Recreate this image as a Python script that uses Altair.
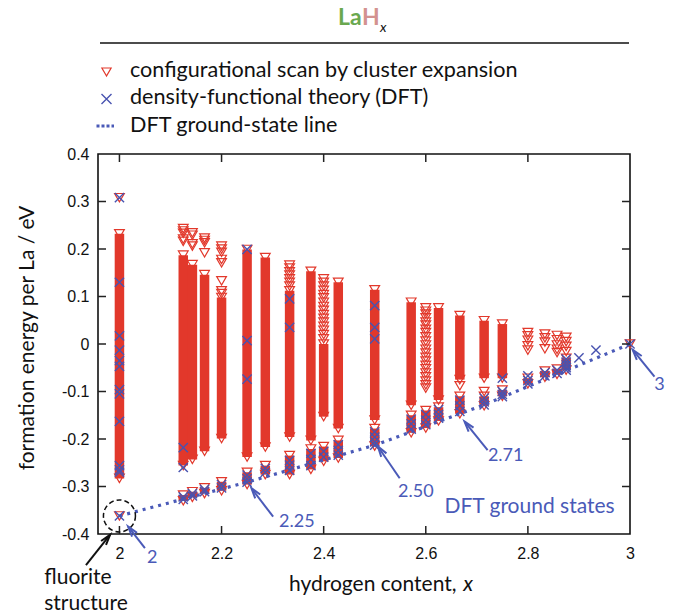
import math
import altair as alt
import pandas as pd

# ---------------- data ----------------
x_ticks = [2.0, 2.2, 2.4, 2.6, 2.8, 3.0]
y_ticks = [0.4, 0.3, 0.2, 0.1, 0.0, -0.1, -0.2, -0.3, -0.4]

# dense columns of cluster-expansion structures (solid stacks of triangles)
main_x   = [2.0, 2.125, 2.1429, 2.1667, 2.2, 2.25, 2.2857, 2.3333, 2.375, 2.4, 2.4286, 2.5, 2.5714, 2.625, 2.6667, 2.7143, 2.75]
main_top = [0.232, 0.187, 0.167, 0.146, 0.098, 0.199, 0.182, 0.112, 0.153, 0.0, 0.13, 0.114, 0.088, 0.076, 0.06, 0.049, 0.042]
main_bot = [-0.283, -0.256, -0.243, -0.226, -0.199, -0.238, -0.217, -0.196, -0.203, -0.153, -0.178, -0.16, -0.129, -0.118, -0.075, -0.072, -0.072]

# low-energy clusters near the ground-state line
grd_x   = [2.125, 2.1429, 2.1667, 2.2, 2.25, 2.2857, 2.3333, 2.375, 2.4, 2.4286, 2.5, 2.5714, 2.6, 2.625, 2.6667, 2.7143, 2.75, 2.8, 2.8333, 2.8571, 2.875]
grd_top = [-0.318, -0.311, -0.303, -0.29, -0.27, -0.256, -0.235, -0.221, -0.216, -0.203, -0.178, -0.15, -0.14, -0.133, -0.11, -0.11, -0.097, -0.072, -0.057, -0.053, -0.03]
grd_bot = [-0.33, -0.323, -0.315, -0.309, -0.296, -0.275, -0.275, -0.264, -0.247, -0.24, -0.215, -0.187, -0.177, -0.162, -0.147, -0.13, -0.11, -0.084, -0.07, -0.064, -0.055]

# isolated cluster-expansion structures
tri_extra = {
    2.0:    [0.308, -0.362],
    2.125:  [0.243, 0.238, 0.233, 0.221, 0.216],
    2.1429: [0.234, 0.229, 0.211, 0.206],
    2.1667: [0.223, 0.218, 0.213, 0.192],
    2.2:    [0.206, 0.2, 0.193, 0.178, 0.171, 0.133, 0.112, 0.106],
    2.3333: [0.166, 0.16, 0.152, 0.145, 0.137, 0.13, 0.122],
    2.4:    [0.137, 0.13, 0.122, 0.113, 0.104, 0.097, 0.088, 0.079, 0.071, 0.062, 0.054, 0.046, 0.037, 0.029, 0.02, 0.011],
    2.6:    [0.076, 0.069, 0.063, 0.055, 0.046, 0.04, 0.031, 0.024, 0.015, 0.006, -0.002, -0.011, -0.019,
             -0.028, -0.036, -0.045, -0.052, -0.061, -0.069, -0.078, -0.086, -0.093],
    2.6667: [-0.088],
    2.7143: [-0.1],
    2.8:    [0.024, 0.017, 0.008, -0.004, -0.013],
    2.8333: [0.021, 0.013, 0.004, -0.01],
    2.8571: [0.018, 0.009, -0.002, -0.011, -0.018],
    2.875:  [0.014, 0.005, -0.005, -0.016],
    3.0:    [0.0],
}

# DFT calculations
dft = {
    2.0:    [0.308, 0.13, 0.017, -0.013, -0.035, -0.047, -0.096, -0.105, -0.163, -0.256, -0.265, -0.27, -0.362],
    2.125:  [-0.218, -0.26, -0.322, -0.327],
    2.1429: [-0.315, -0.32],
    2.1667: [-0.306, -0.311],
    2.2:    [-0.296, -0.303],
    2.25:   [0.199, 0.007, -0.074, -0.276, -0.284, -0.291],
    2.2857: [-0.262, -0.27],
    2.3333: [0.095, 0.035, -0.245, -0.255, -0.266],
    2.375:  [-0.23, -0.243, -0.256],
    2.4:    [-0.226, -0.238],
    2.4286: [-0.212, -0.224, -0.234],
    2.5:    [0.081, 0.035, 0.011, -0.185, -0.196, -0.206, -0.213],
    2.5714: [-0.158, -0.168, -0.179],
    2.6:    [-0.148, -0.16, -0.17],
    2.625:  [-0.138, -0.148, -0.156],
    2.6667: [-0.118, -0.13, -0.142],
    2.7143: [-0.114, -0.122, -0.128],
    2.75:   [-0.072, -0.1, -0.106, -0.111],
    2.8:    [-0.067, -0.077, -0.084],
    2.8333: [-0.06, -0.067],
    2.8571: [-0.055, -0.062],
    2.875:  [-0.032, -0.038, -0.044, -0.05, -0.055],
    2.9:    [-0.029],
    2.9333: [-0.013],
    3.0:    [0.0],
}

# DFT ground-state line
gs_x = [2.0, 2.25, 2.5, 2.7143, 3.0]
gs_y = [-0.362, -0.291, -0.213, -0.128, 0.0]

# annotation arrows (tail -> tip) and labels, in data units
arrows = [
    ("2",    2.0499, -0.4295, 2.0172, -0.3846, "blue"),
    ("fl",   1.9344, -0.4653, 1.9814, -0.4021, "black"),
    ("2.25", 2.3010, -0.3636, 2.2587, -0.3038, "blue"),
    ("2.50", 2.5489, -0.2827, 2.5065, -0.2162, "blue"),
    ("2.71", 2.7211, -0.2232, 2.6761, -0.1636, "blue"),
    ("3",    3.0479, -0.0688, 3.0055, -0.0126, "blue"),
]
labels_txt = ["2", "2.25", "2.50", "2.71", "3"]
labels_x   = [2.0538, 2.3127, 2.5456, 2.7217, 3.0577]
labels_y   = [-0.4505, -0.3741, -0.311, -0.2358, -0.0863]
labels_al  = ["left", "left", "left", "left", "center"]

# ---------------- style ----------------
RED = "#e2382b"
BLUE = "#4853b0"
LBLUE = "#4a5ab8"
W, H = 532, 380
XD = [1.958, 3.0]
YD = [-0.4, 0.4]
PXX = W / (XD[1] - XD[0])
PXY = H / (YD[1] - YD[0])
SANS = "Liberation Sans"
HUM = "Lato"
FS = 21
CROSS = "M-1,-1L1,1M-1,1L1,-1"
VHEAD = "M-0.6,1L0,-1L0.6,1"

xs = alt.Scale(domain=XD, nice=False, zero=False)
ys = alt.Scale(domain=YD, nice=False, zero=False)

xaxis = alt.Axis(values=x_ticks, labelExpr="'' + datum.value", ticks=False, tickSize=0,
                 domain=False, grid=False, labelFont=SANS, labelFontSize=16, labelColor="#111",
                 labelPadding=11, labelFlush=False, labelOverlap=False, title=None)
yaxis = alt.Axis(values=y_ticks, labelExpr="'' + datum.value", ticks=False, tickSize=0,
                 domain=False, grid=False, labelFont=SANS, labelFontSize=16, labelColor="#111",
                 labelPadding=9, labelFlush=False, labelOverlap=False, title=None)


def X(f):
    return alt.X(f, type="quantitative", scale=xs, axis=xaxis)


def Y(f):
    return alt.Y(f, type="quantitative", scale=ys, axis=yaxis)


# ---------------- frames ----------------
df_main = pd.DataFrame({"x": main_x, "top": main_top, "bot": main_bot})
df_grd = pd.DataFrame({"x": grd_x, "top": grd_top, "bot": grd_bot})

tri_rows = []
for xv, t, b in zip(main_x, main_top, main_bot):
    tri_rows += [(xv, t), (xv, b)]
for xv, t, b in zip(grd_x, grd_top, grd_bot):
    tri_rows += [(xv, t), (xv, b)]
for xv, vals in tri_extra.items():
    tri_rows += [(xv, v) for v in vals]
df_tri = pd.DataFrame(tri_rows, columns=["x", "y"])

df_dft = pd.DataFrame([(xv, v) for xv, vals in dft.items() for v in vals], columns=["x", "y"])
df_gs = pd.DataFrame({"x": gs_x, "y": gs_y})

arow = []
for lab, tx, ty, px, py, col in arrows:
    dxp = (px - tx) * PXX
    dyp = -(py - ty) * PXY
    L = math.hypot(dxp, dyp)
    ux, uy = dxp / L, dyp / L
    ang = math.degrees(math.atan2(ux, -uy)) % 360
    hx = px - ux * 5 / PXX
    hy = py + uy * 5 / PXY
    arow.append({"tx": tx, "ty": ty, "px": px, "py": py, "hx": hx, "hy": hy,
                 "ang": ang, "col": LBLUE if col == "blue" else "#111"})
df_arr = pd.DataFrame(arow)
df_lab = pd.DataFrame({"t": labels_txt, "x": labels_x, "y": labels_y, "al": labels_al})

bars = alt.Chart(df_main).mark_rule(color=RED, strokeWidth=9.5, strokeCap="butt").encode(
    x=X("x"), y=Y("top"), y2="bot")
gbars = alt.Chart(df_grd).mark_rule(color=RED, strokeWidth=9.5, strokeCap="butt").encode(
    x=X("x"), y=Y("top"), y2="bot")
tris = alt.Chart(df_tri).mark_point(shape="triangle-down", filled=False, color=RED,
                                    strokeWidth=1.2, size=95, opacity=1).encode(x=X("x"), y=Y("y"))
gsline = alt.Chart(df_gs).mark_line(color=LBLUE, strokeWidth=3.2, strokeDash=[3, 5]).encode(
    x=X("x"), y=Y("y"))
crosses = alt.Chart(df_dft).mark_point(shape=CROSS, filled=False, color=BLUE, strokeWidth=1.4,
                                       size=85, opacity=1).encode(x=X("x"), y=Y("y"))

# inward ticks on all four sides
df_xt = pd.DataFrame({"v": x_ticks[:-1]})
df_yt = pd.DataFrame({"v": y_ticks[1:-1]})
TK = dict(color="#222", strokeWidth=1.5)
tick_b = alt.Chart(df_xt).mark_rule(**TK).encode(x=X("v"), y=alt.value(H), y2=alt.value(H - 8))
tick_t = alt.Chart(df_xt).mark_rule(**TK).encode(x=X("v"), y=alt.value(0), y2=alt.value(8))
tick_l = alt.Chart(df_yt).mark_rule(**TK).encode(y=Y("v"), x=alt.value(0), x2=alt.value(8))
tick_r = alt.Chart(df_yt).mark_rule(**TK).encode(y=Y("v"), x=alt.value(W), x2=alt.value(W - 8))

# annotations
circle = alt.Chart(pd.DataFrame({"x": [2.0], "y": [-0.362]})).mark_point(
    shape="circle", filled=False, color="#111", strokeWidth=1.5, strokeDash=[5, 3], size=1024,
    opacity=1).encode(x=X("x"), y=Y("y"))
shafts = alt.Chart(df_arr).mark_rule(strokeWidth=2).encode(
    x=X("tx"), y=Y("ty"), x2="px", y2="py", color=alt.Color("col:N", scale=None))
heads = alt.Chart(df_arr).mark_point(shape=VHEAD, filled=False, strokeWidth=2, size=110, opacity=1).encode(
    x=X("hx"), y=Y("hy"), angle=alt.Angle("ang:Q", scale=None), color=alt.Color("col:N", scale=None))
num_l = alt.Chart(df_lab[df_lab.al == "left"]).mark_text(
    align="left", baseline="middle", font=HUM, fontSize=18, color=LBLUE).encode(
    x=X("x"), y=Y("y"), text="t:N")
num_c = alt.Chart(df_lab[df_lab.al == "center"]).mark_text(
    align="center", baseline="middle", font=HUM, fontSize=18, color=LBLUE).encode(
    x=X("x"), y=Y("y"), text="t:N")
gs_txt = alt.Chart(pd.DataFrame({"x": [2.8033], "y": [-0.3425], "t": ["DFT ground states"]})).mark_text(
    align="center", baseline="middle", font=HUM, fontSize=FS, color=LBLUE).encode(
    x=X("x"), y=Y("y"), text="t:N")
fl_txt = alt.Chart(pd.DataFrame({"x": [1.9188, 1.9344], "y": [-0.4926, -0.5474],
                                 "t": ["fluorite", "structure"]})).mark_text(
    align="center", baseline="middle", font=HUM, fontSize=FS, color="#111").encode(
    x=X("x"), y=Y("y"), text="t:N")


def ptext(s, x, y, size=FS, color="#111", align="left", baseline="middle",
          weight="normal", style="normal", font=HUM, angle=0):
    return alt.Chart(pd.DataFrame({"t": [s]})).mark_text(
        align=align, baseline=baseline, fontSize=size, color=color, font=font,
        fontWeight=weight, fontStyle=style, angle=angle).encode(
        x=alt.value(x), y=alt.value(y), text="t:N")


one = pd.DataFrame({"a": [0]})
title_la = ptext("La", 240, -129, size=23, color="#6aa84f", baseline="alphabetic", weight="bold")
title_h = ptext("H", 264, -129, size=23, color="#d39290", baseline="alphabetic", weight="bold")
title_x = ptext("x", 282, -122, size=14, baseline="alphabetic", style="italic")
title_rule = alt.Chart(one).mark_rule(color="#111", strokeWidth=1.3).encode(
    x=alt.value(2), x2=alt.value(531), y=alt.value(-111))

leg_tri = alt.Chart(one).mark_point(shape="triangle-down", filled=False, color=RED, strokeWidth=1.2,
                                    size=85, opacity=1).encode(x=alt.value(8.5), y=alt.value(-82))
leg_cross = alt.Chart(one).mark_point(shape=CROSS, filled=False, color=BLUE, strokeWidth=1.4,
                                      size=100, opacity=1).encode(x=alt.value(8.5), y=alt.value(-55))
leg_line = alt.Chart(one).mark_rule(color=LBLUE, strokeWidth=3, strokeDash=[3, 2]).encode(
    x=alt.value(-1.5), x2=alt.value(16), y=alt.value(-28))
leg1 = ptext("configurational scan by cluster expansion", 32, -83, size=21.6)
leg2 = ptext("density-functional theory (DFT)", 32, -56, size=21.6)
leg3 = ptext("DFT ground-state line", 32, -28, size=21.6)

ytitle = ptext("formation energy per La / eV", -70, 184, align="center", angle=270)
xtitle1 = ptext("hydrogen content,", 191, 431)
xtitle2 = ptext("x", 375, 431, align="right", style="italic")

chart = alt.layer(
    bars, gbars, tris, gsline, crosses,
    tick_b, tick_t, tick_l, tick_r,
    circle, shafts, heads, num_l, num_c, gs_txt, fl_txt,
    title_la, title_h, title_x, title_rule,
    leg_tri, leg_cross, leg_line, leg1, leg2, leg3,
    ytitle, xtitle1, xtitle2,
).properties(
    width=W, height=H,
    background="white",
    autosize=alt.AutoSizeParams(type="none"),
    padding={"left": 98, "top": 154, "right": 49, "bottom": 82},
).configure_view(stroke="#111", strokeWidth=1.6)

chart.save("out.html", embed_options={"renderer": "svg", "actions": False})
